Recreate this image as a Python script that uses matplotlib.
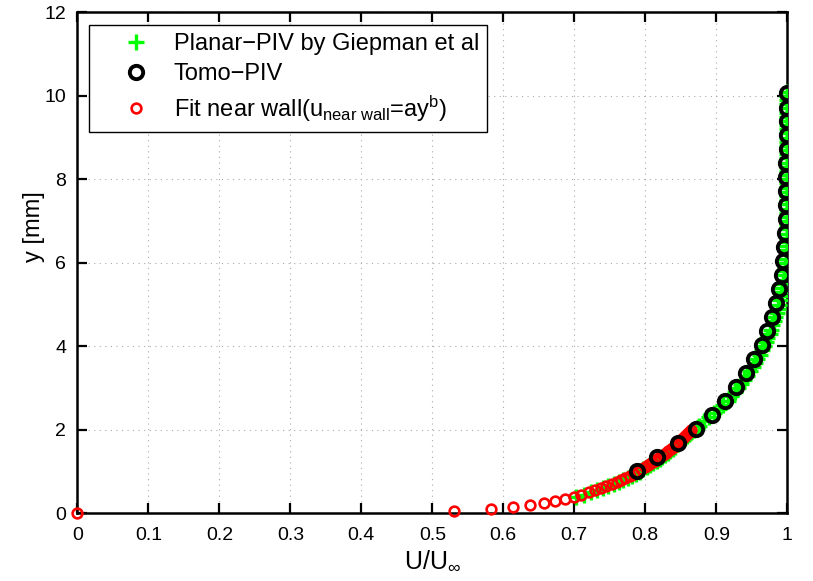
import matplotlib
matplotlib.use("Agg")
import matplotlib.pyplot as plt
from matplotlib.lines import Line2D

plt.rcParams['font.family'] = ['Liberation Sans', 'DejaVu Sans']
plt.rcParams['mathtext.fontset'] = 'custom'
plt.rcParams['mathtext.rm'] = 'Liberation Sans'
plt.rcParams['mathtext.it'] = 'Liberation Sans'
plt.rcParams['mathtext.bf'] = 'Liberation Sans'

# ---- data ----
planar_y = [0.40, 0.45, 0.50, 0.55, 0.60, 0.65, 0.70, 0.75, 0.80, 0.85, 0.90, 0.95,
            1.00, 1.05, 1.10, 1.15, 1.20, 1.25, 1.30, 1.35, 1.40, 1.45, 1.50, 1.55,
            1.60, 1.65, 1.70, 1.75, 1.80, 1.85, 1.90, 1.95, 2.00,
            2.1, 2.2, 2.3, 2.4, 2.5, 2.6, 2.7, 2.8, 2.9, 3.0, 3.1, 3.2, 3.3, 3.4, 3.5,
            3.6, 3.7, 3.8, 3.9, 4.0, 4.1, 4.2, 4.3, 4.4, 4.5, 4.6, 4.7, 4.8, 4.9, 5.0,
            5.1, 5.2, 5.3, 5.4, 5.5, 5.6, 5.7, 5.8, 5.9, 6.0, 6.1, 6.2, 6.3, 6.4, 6.5,
            6.6, 6.7, 6.8, 6.9, 7.0, 7.1, 7.2, 7.3, 7.4, 7.5, 7.6, 7.7, 7.8, 7.9, 8.0,
            8.1, 8.2, 8.3, 8.4, 8.5, 8.6, 8.7, 8.8, 8.9, 9.0, 9.1, 9.2, 9.3, 9.4, 9.5,
            9.6, 9.7, 9.8, 9.9, 10.0, 10.1]
planar_u = [0.702, 0.713, 0.723, 0.732, 0.741, 0.748, 0.756, 0.763, 0.769, 0.775, 0.781, 0.787,
            0.792, 0.797, 0.802, 0.807, 0.811, 0.816, 0.820, 0.824, 0.828, 0.832, 0.835, 0.839,
            0.842, 0.846, 0.849, 0.853, 0.856, 0.859, 0.862, 0.865, 0.868,
            0.876, 0.883, 0.890, 0.897, 0.904, 0.910, 0.916, 0.921, 0.926, 0.931, 0.935, 0.939, 0.943, 0.947, 0.951,
            0.954, 0.958, 0.961, 0.964, 0.967, 0.970, 0.972, 0.975, 0.977, 0.979, 0.981, 0.983, 0.985, 0.987, 0.988,
            0.990, 0.991, 0.992, 0.993, 0.994, 0.995, 0.996, 0.997, 0.997, 0.998, 0.998, 0.999, 0.999, 0.999, 1.000,
            1.000, 1.000, 1.000, 1.000, 1.000, 1.000, 1.000, 1.000, 1.000, 1.000, 1.000, 1.000, 1.000, 1.000, 1.000,
            1.000, 1.000, 1.000, 1.000, 1.000, 1.000, 1.000, 1.000, 1.000, 1.000, 1.000, 1.000, 1.000, 1.000, 1.000,
            1.000, 1.000, 1.000, 1.000, 1.000, 1.000]

tomo_y = [1.01, 1.35, 1.68, 2.02, 2.35, 2.69, 3.02, 3.36, 3.69, 4.03, 4.36, 4.70, 5.03, 5.37,
          5.70, 6.04, 6.37, 6.71, 7.04, 7.38, 7.71, 8.05, 8.38, 8.72, 9.05, 9.39, 9.72, 10.06]
tomo_u = [0.788, 0.817, 0.846, 0.871, 0.894, 0.912, 0.928, 0.942, 0.953, 0.964, 0.972, 0.978, 0.984, 0.989,
          0.992, 0.994, 0.996, 0.997, 0.998, 0.998, 0.998, 0.998, 0.998, 0.999, 0.999, 0.999, 0.999, 0.999]

fit_y = [0.00, 0.05, 0.10, 0.15, 0.20, 0.25, 0.30, 0.35, 0.40, 0.45, 0.50, 0.55, 0.60, 0.65,
         0.70, 0.75, 0.80, 0.85, 0.90, 0.95, 1.00, 1.05, 1.10, 1.15, 1.20, 1.25, 1.30,
         1.35, 1.40, 1.45, 1.50, 1.55, 1.60, 1.65, 1.70, 1.75, 1.80, 1.85, 1.90, 1.95, 2.00]
fit_u = [0.000, 0.531, 0.582, 0.614, 0.638, 0.657, 0.673, 0.687, 0.699, 0.710, 0.720, 0.729, 0.738, 0.745,
         0.753, 0.760, 0.766, 0.772, 0.778, 0.784, 0.789, 0.794, 0.799, 0.804, 0.808, 0.813, 0.817,
         0.821, 0.825, 0.829, 0.832, 0.836, 0.840, 0.843, 0.846, 0.850, 0.853, 0.856, 0.859, 0.862, 0.865]

x_ticks = [0, 0.1, 0.2, 0.3, 0.4, 0.5, 0.6, 0.7, 0.8, 0.9, 1]
x_ticklabels = ['0', '0.1', '0.2', '0.3', '0.4', '0.5', '0.6', '0.7', '0.8', '0.9', '1']
y_ticks = [0, 2, 4, 6, 8, 10, 12]
y_ticklabels = ['0', '2', '4', '6', '8', '10', '12']

labels = ['Planar\u2212PIV by Giepman et al', 'Tomo\u2212PIV',
          r'Fit near wall(u$_{\mathrm{near\ wall}}$=ay$^{\mathrm{b}}$)']

# marker styles
green = (0, 1, 0)
red = (1, 0, 0)
planar_style = dict(linestyle='none', marker='+', color=green, markersize=11, markeredgewidth=2.4)
tomo_style = dict(linestyle='none', marker='o', markerfacecolor='none', markeredgecolor='k',
                  markersize=9.6, markeredgewidth=2.8)
fit_style = dict(linestyle='none', marker='o', markerfacecolor='none', markeredgecolor=red,
                 markersize=7.0, markeredgewidth=1.9)

# ---- figure ----
fig = plt.figure(figsize=(8.13, 5.81), dpi=100)
ax = fig.add_axes([0.0951, 0.1165, 0.8733, 0.8623])

ax.plot(planar_u, planar_y, zorder=3, **planar_style)
ax.plot(fit_u, fit_y, zorder=4, clip_on=False, **fit_style)
ax.plot(tomo_u, tomo_y, zorder=5, **tomo_style)

ax.set_xlim(0, 1)
ax.set_ylim(0, 12)
ax.set_xticks(x_ticks)
ax.set_xticklabels(x_ticklabels)
ax.set_yticks(y_ticks)
ax.set_yticklabels(y_ticklabels)
ax.tick_params(direction='in', length=7, width=1.6, top=True, right=True,
               labelsize=14, pad=10)
ax.tick_params(axis='y', pad=8)
for s in ax.spines.values():
    s.set_linewidth(1.8)
ax.grid(True, color='#aaaaaa', linestyle=(0, (1, 4)), linewidth=0.8)
ax.set_axisbelow(True)

ax.set_xlabel(r'U/U$_\infty$', fontsize=18, labelpad=3)
ax.set_ylabel('y [mm]', fontsize=17)
ax.yaxis.set_label_coords(-0.046, 0.573)

handles = [Line2D([], [], **planar_style), Line2D([], [], **tomo_style), Line2D([], [], **fit_style)]
leg = ax.legend(handles, labels, loc='upper left', bbox_to_anchor=(0.016, 0.975),
                borderaxespad=0, fontsize=17, frameon=True, fancybox=False,
                edgecolor='k', framealpha=1, handlelength=3.3, handletextpad=-0.05,
                labelspacing=0.35, borderpad=0.35)
leg.get_frame().set_linewidth(1.0)

fig.savefig('out.png', dpi=100)
